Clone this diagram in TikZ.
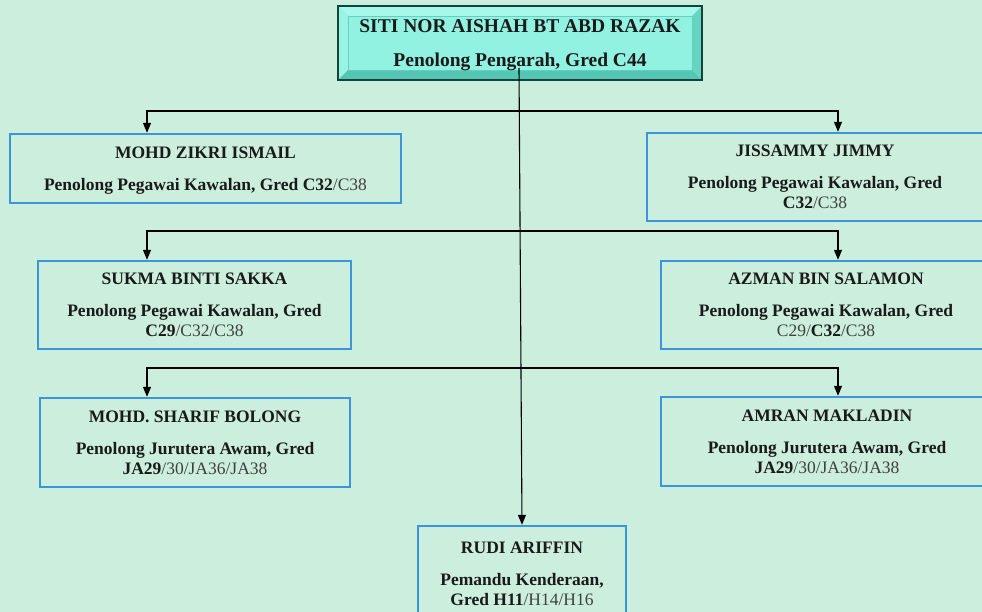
\documentclass[tikz,border=0pt]{standalone}
\usepackage{fontspec}
\setmainfont{Liberation Serif}
\usetikzlibrary{arrows.meta,calc}
\definecolor{bg}{HTML}{CCEEDD}
\definecolor{boxblue}{HTML}{3A96DA}
\definecolor{topborder}{HTML}{14433D}
\definecolor{topfill}{HTML}{7DE9D6}
\definecolor{toplight}{HTML}{A6F8EA}
\definecolor{topdark}{HTML}{55C6B3}
\definecolor{topinner}{HTML}{92F2E2}
\definecolor{txt}{HTML}{1A1A1A}
\definecolor{soft}{HTML}{404040}
\newcommand{\lt}[1]{{\mdseries\color{soft}#1}}
\tikzset{
  staff/.style={draw=boxblue, line width=2.4pt, fill=bg, align=center,
    font=\fontsize{17.5}{20}\selectfont\bfseries, text=txt, inner sep=0pt},
  headbox/.style={draw=topborder, line width=2.6pt, fill=topfill, align=center,
    font=\fontsize{19.5}{22}\selectfont\bfseries, text=txt, inner sep=0pt,
    path picture={
      \coordinate (NW) at (path picture bounding box.north west);
      \coordinate (SE) at (path picture bounding box.south east);
      \coordinate (NE) at (path picture bounding box.north east);
      \coordinate (SW) at (path picture bounding box.south west);
      \fill[toplight] (NW) -- (NE) -- ([shift={(-10pt,-10pt)}]NE) -- ([shift={(10pt,-10pt)}]NW) -- cycle;
      \fill[toplight!70!topfill] (NW) -- (SW) -- ([shift={(10pt,10pt)}]SW) -- ([shift={(10pt,-10pt)}]NW) -- cycle;
      \fill[topdark] (SW) -- (SE) -- ([shift={(-10pt,10pt)}]SE) -- ([shift={(10pt,10pt)}]SW) -- cycle;
      \fill[topdark!60!topfill] (NE) -- (SE) -- ([shift={(-10pt,10pt)}]SE) -- ([shift={(-10pt,-10pt)}]NE) -- cycle;
      \fill[topinner] ([shift={(10pt,-10pt)}]NW) rectangle ([shift={(-10pt,10pt)}]SE);
      \draw[topdark!70!topfill, line width=0.6pt] ([shift={(10pt,-10pt)}]NW) rectangle ([shift={(-10pt,10pt)}]SE);
    }},
  conn/.style={draw=black, line width=1.1pt},
  tip/.style={-{Triangle[width=8pt,length=10pt]}},
  tips/.style={{Triangle[width=8pt,length=10pt]}-{Triangle[width=8pt,length=10pt]}}
}
\begin{document}
\begin{tikzpicture}[x=1pt,y=-1pt]
\fill[bg] (0,0) rectangle (982,612);
\useasboundingbox (0,0) rectangle (982,612);

\node[headbox, minimum width=364pt, minimum height=74pt, text depth=-8pt] (head) at (520,43)
  {SITI NOR AISHAH BT ABD RAZAK\\[12pt] Penolong Pengarah, Gred C44};

\node[staff, minimum width=391pt, minimum height=69pt, text depth=-4.5pt] (zikri) at (205.5,168.5)
  {MOHD ZIKRI ISMAIL\\[12pt] Penolong Pegawai Kawalan, Gred C32\lt{/C38}};
\node[staff, minimum width=336pt, minimum height=88pt] (jiss) at (815,177)
  {JISSAMMY JIMMY\\[12pt] Penolong Pegawai Kawalan, Gred\\ C32\lt{/C38}};

\node[staff, minimum width=313pt, minimum height=88pt] (sukma) at (194.5,305)
  {SUKMA BINTI SAKKA\\[12pt] Penolong Pegawai Kawalan, Gred\\ C29\lt{/C32/C38}};
\node[staff, minimum width=330pt, minimum height=88pt] (azman) at (826,305)
  {AZMAN BIN SALAMON\\[12pt] Penolong Pegawai Kawalan, Gred\\ \lt{C29/}C32\lt{/C38}};

\node[staff, minimum width=310pt, minimum height=89pt] (sharif) at (195,442.5)
  {MOHD. SHARIF BOLONG\\[12pt] Penolong Jurutera Awam, Gred\\ JA29\lt{/30/JA36/JA38}};
\node[staff, minimum width=332pt, minimum height=89pt] (amran) at (827,441.5)
  {AMRAN MAKLADIN\\[12pt] Penolong Jurutera Awam, Gred\\ JA29\lt{/30/JA36/JA38}};

\node[staff, minimum width=208pt, minimum height=95pt] (rudi) at (522,573.5)
  {RUDI ARIFFIN\\[12pt] Pemandu Kenderaan,\\ Gred H11\lt{/H14/H16}};

\coordinate (hs) at (519,68);
\coordinate (l1) at (147,111); \coordinate (r1) at (838,111);
\coordinate (l2) at (147,231); \coordinate (r2) at (838,231);
\coordinate (l3) at (147,368); \coordinate (r3) at (838,368);

\draw[conn,tip] (hs) -- (rudi.north);
\draw[conn,tips] (l1 |- zikri.north) -- (l1) -- (r1) -- (r1 |- jiss.north);
\draw[conn,tips] (l2 |- sukma.north) -- (l2) -- (r2) -- (r2 |- azman.north);
\draw[conn,tips] (l3 |- sharif.north) -- (l3) -- (r3) -- (r3 |- amran.north);
\end{tikzpicture}
\end{document}
